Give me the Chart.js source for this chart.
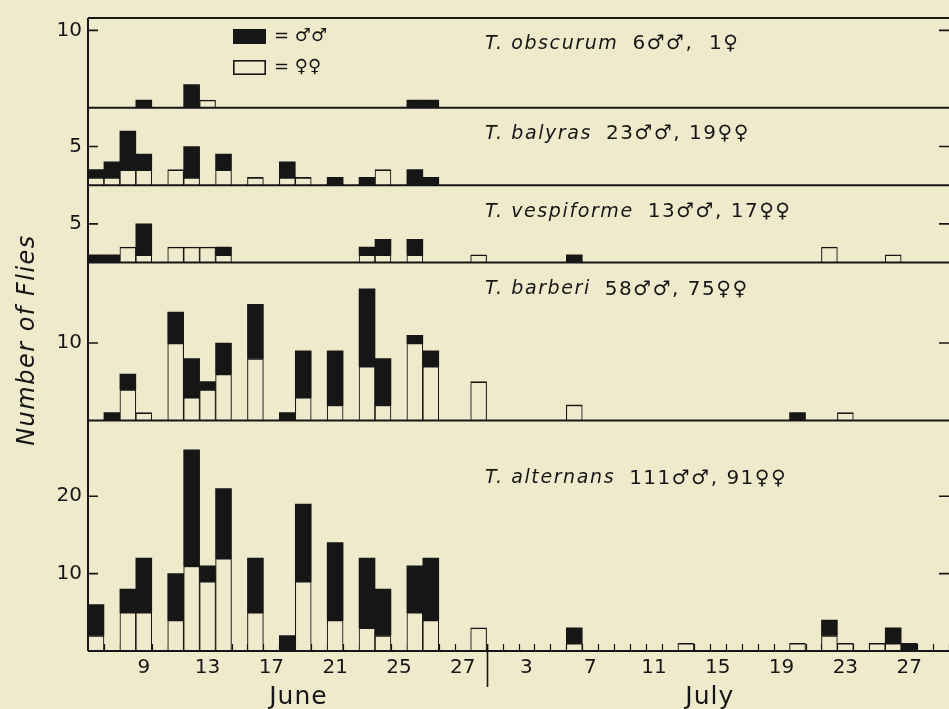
<!DOCTYPE html>
<html>
<head>
<meta charset="utf-8">
<title>Number of Flies</title>
<script src="https://cdn.jsdelivr.net/npm/chart.js@4.4.1/dist/chart.umd.min.js"></script>
<style>
  html, body { margin: 0; padding: 0; background: #f0eacd; }
  #wrap { position: relative; width: 949px; height: 709px; overflow: hidden; }
</style>
</head>
<body>
<div id="wrap"><canvas id="flies" width="949" height="709"></canvas></div>
<script>
// Collection days, 6 June to 29 July (one bar slot per day)
const days = [
  'Jun 6','Jun 7','Jun 8','Jun 9','Jun 10','Jun 11','Jun 12','Jun 13','Jun 14','Jun 15',
  'Jun 16','Jun 17','Jun 18','Jun 19','Jun 20','Jun 21','Jun 22','Jun 23','Jun 24','Jun 25',
  'Jun 26','Jun 27','Jun 28','Jun 29','Jun 30',
  'Jul 1','Jul 2','Jul 3','Jul 4','Jul 5','Jul 6','Jul 7','Jul 8','Jul 9','Jul 10',
  'Jul 11','Jul 12','Jul 13','Jul 14','Jul 15','Jul 16','Jul 17','Jul 18','Jul 19','Jul 20',
  'Jul 21','Jul 22','Jul 23','Jul 24','Jul 25','Jul 26','Jul 27','Jul 28','Jul 29'
];

// Printed day numbers under the axis
const tickLabels = [
  '','','','9','','','','13','','',
  '','17','','','','21','','','','25',
  '','','','27','',
  '','','3','','','','7','','','',
  '11','','','','15','','','','19','',
  '','','23','','','','27','',''
];

const months = ['June', 'July'];

// Counts per day: June 6–30 on the first line, July 1–29 on the second
const obscurumF = [0,0,0,0,0,0,0,1,0,0,0,0,0,0,0,0,0,0,0,0,0,0,0,0,0,
                   0,0,0,0,0,0,0,0,0,0,0,0,0,0,0,0,0,0,0,0,0,0,0,0,0,0,0,0,0];
const obscurumM = [0,0,0,1,0,0,3,0,0,0,0,0,0,0,0,0,0,0,0,0,1,1,0,0,0,
                   0,0,0,0,0,0,0,0,0,0,0,0,0,0,0,0,0,0,0,0,0,0,0,0,0,0,0,0,0];

const balyrasF = [1,1,2,2,0,2,1,0,2,0,1,0,1,1,0,0,0,0,2,0,0,0,0,0,0,
                  0,0,0,0,0,0,0,0,0,0,0,0,0,0,0,0,0,0,0,0,0,0,0,0,0,0,0,0,0];
const balyrasM = [1,2,5,2,0,0,4,0,2,0,0,0,2,0,0,1,0,1,0,0,2,1,0,0,0,
                  0,0,0,0,0,0,0,0,0,0,0,0,0,0,0,0,0,0,0,0,0,0,0,0,0,0,0,0,0];

const vespiformeF = [0,0,2,1,0,2,2,2,1,0,0,0,0,0,0,0,0,1,1,0,1,0,0,0,1,
                     0,0,0,0,0,0,0,0,0,0,0,0,0,0,0,0,0,0,0,0,0,2,0,0,0,1,0,0,0];
const vespiformeM = [1,1,0,4,0,0,0,0,1,0,0,0,0,0,0,0,0,1,2,0,2,0,0,0,0,
                     0,0,0,0,0,1,0,0,0,0,0,0,0,0,0,0,0,0,0,0,0,0,0,0,0,0,0,0,0];

const barberiF = [0,0,4,1,0,10,3,4,6,0,8,0,0,3,0,2,0,7,2,0,10,7,0,0,5,
                  0,0,0,0,0,2,0,0,0,0,0,0,0,0,0,0,0,0,0,0,0,0,1,0,0,0,0,0,0];
const barberiM = [0,1,2,0,0,4,5,1,4,0,7,0,1,6,0,7,0,10,6,0,1,2,0,0,0,
                  0,0,0,0,0,0,0,0,0,0,0,0,0,0,0,0,0,0,0,1,0,0,0,0,0,0,0,0,0];

const alternansF = [2,0,5,5,0,4,11,9,12,0,5,0,0,9,0,4,0,3,2,0,5,4,0,0,3,
                    0,0,0,0,0,1,0,0,0,0,0,0,1,0,0,0,0,0,0,1,0,2,1,0,1,1,0,0,0];
const alternansM = [4,0,3,7,0,6,15,2,9,0,7,0,2,10,0,10,0,9,6,0,6,8,0,0,0,
                    0,0,0,0,0,2,0,0,0,0,0,0,0,0,0,0,0,0,0,0,0,2,0,0,0,2,1,0,0];

// Species captions and printed totals
const speciesNames = ['T. obscurum', 'T. balyras', 'T. vespiforme', 'T. barberi', 'T. alternans'];
const totalLabels = ['6\u2642\u2642,  1\u2640', '23\u2642\u2642, 19\u2640\u2640', '13\u2642\u2642, 17\u2640\u2640',
                     '58\u2642\u2642, 75\u2640\u2640', '111\u2642\u2642, 91\u2640\u2640'];

// Value range and labelled ticks of each strip
const panelMax = [11.6, 10, 10, 20.4, 29.8];
const panelTicks = [[10], [5], [5], [10], [10, 20]];

const legendLabels = ['= \u2642\u2642', '= \u2640\u2640'];
const axisTitle = 'Number of Flies';

const INK = '#161616';
const PAPER = '#f0eacd';
const FAMILY = "'DejaVu Sans', 'Noto Sans', sans-serif";

const femaleSeries = [obscurumF, balyrasF, vespiformeF, barberiF, alternansF];
const maleSeries = [obscurumM, balyrasM, vespiformeM, barberiM, alternansM];
const panelIds = ['y0', 'y1', 'y2', 'y3', 'y4'];

const datasets = [];
panelIds.forEach((id, p) => {
  datasets.push({
    label: speciesNames[p] + ' \u2640\u2640',
    data: femaleSeries[p].map(v => v || null),
    yAxisID: id, stack: 'sex',
    backgroundColor: PAPER, borderColor: INK,
    borderWidth: { top: 1.6, left: 1.1, right: 1.1, bottom: 0 },
    barPercentage: 1, categoryPercentage: 1
  });
  datasets.push({
    label: speciesNames[p] + ' \u2642\u2642',
    data: maleSeries[p].map(v => v || null),
    yAxisID: id, stack: 'sex',
    backgroundColor: INK, borderColor: INK, borderWidth: 0,
    barPercentage: 1, categoryPercentage: 1
  });
});

function panelScale(p) {
  return {
    type: 'linear', position: 'left', stack: 'panels',
    stackWeight: panelMax[p], weight: 10 - p,
    stacked: true, min: 0, max: panelMax[p],
    grid: { display: false, drawTicks: false },
    border: { display: false },
    ticks: { color: INK, font: { family: FAMILY, size: 20 }, padding: 6 },
    afterBuildTicks(s) { s.ticks = panelTicks[p].map(v => ({ value: v })); },
    afterFit(s) { s.width = 88; }
  };
}

const scales = {
  x: {
    type: 'category', stacked: true, offset: true,
    grid: { display: false, drawTicks: false },
    border: { display: false },
    ticks: {
      autoSkip: false, maxRotation: 0, minRotation: 0, padding: 5,
      color: INK, font: { family: FAMILY, size: 20 },
      callback: (v, i) => tickLabels[i]
    },
    afterFit(s) { s.height = 58; }
  }
};
panelIds.forEach((id, p) => { scales[id] = panelScale(p); });

// left edge of day slot i on the category axis
const slotEdge = (x, i) => x.getPixelForValue(i - 0.5);

const stripDecor = {
  id: 'stripDecor',
  beforeDatasetsDraw(chart, args, o) {
    const { ctx, chartArea: a, scales: { x } } = chart;
    ctx.save();
    ctx.strokeStyle = INK;
    ctx.lineWidth = 1.2;
    ctx.beginPath();
    for (let i = 0; i <= days.length; i++) {
      const px = Math.round(slotEdge(x, i)) + 0.5;
      ctx.moveTo(px, a.bottom);
      ctx.lineTo(px, a.bottom - o.dayTick);
    }
    ctx.stroke();
    ctx.restore();
  },
  afterDatasetsDraw(chart, args, o) {
    const { ctx, chartArea: a, scales: sc } = chart;
    const x = sc.x;
    ctx.save();
    ctx.strokeStyle = INK;
    ctx.lineWidth = 2;
    ctx.beginPath();
    // frame top and left axis
    ctx.moveTo(a.left, a.top); ctx.lineTo(a.right, a.top);
    ctx.moveTo(a.left, a.top); ctx.lineTo(a.left, a.bottom);
    // baseline of every strip
    panelIds.forEach(id => {
      const y0 = sc[id].getPixelForValue(0);
      ctx.moveTo(a.left, y0); ctx.lineTo(a.right, y0);
    });
    ctx.stroke();
    // value ticks, inside on both sides
    ctx.lineWidth = 1.6;
    ctx.beginPath();
    panelIds.forEach((id, p) => {
      panelTicks[p].forEach(v => {
        const py = sc[id].getPixelForValue(v);
        ctx.moveTo(a.left, py); ctx.lineTo(a.left + o.valueTick, py);
        ctx.moveTo(a.right - o.valueTick, py); ctx.lineTo(a.right, py);
      });
    });
    // June | July divider
    const dx = Math.round(slotEdge(x, o.monthBreak)) + 0.5;
    ctx.moveTo(dx, a.bottom - o.dayTick);
    ctx.lineTo(dx, a.bottom + o.dividerDrop);
    ctx.stroke();
    ctx.restore();
  },
  afterDraw(chart, args, o) {
    const { ctx, chartArea: a, scales: sc } = chart;
    const x = sc.x;
    ctx.save();
    ctx.fillStyle = INK;
    ctx.textBaseline = 'middle';

    // species captions
    panelIds.forEach((id, p) => {
      const ty = sc[id].top + o.captionDy[p];
      ctx.textAlign = 'left';
      ctx.letterSpacing = '1.6px';
      ctx.font = `italic 19px ${FAMILY}`;
      ctx.fillText(speciesNames[p], o.captionX, ty);
      const w = ctx.measureText(speciesNames[p]).width;
      ctx.font = `20px ${FAMILY}`;
      ctx.letterSpacing = '1.5px';
      ctx.fillText(totalLabels[p], o.captionX + w + 14, ty);
    });

    // legend keys
    const lg = o.legend;
    ctx.letterSpacing = '0px';
    ctx.fillStyle = chart.data.datasets[1].backgroundColor;
    ctx.fillRect(lg.x, lg.y, lg.w, lg.h);
    ctx.fillStyle = chart.data.datasets[0].backgroundColor;
    ctx.strokeStyle = INK;
    ctx.lineWidth = 1.6;
    ctx.fillRect(lg.x, lg.y + lg.gap, lg.w, lg.h);
    ctx.strokeRect(lg.x + 0.8, lg.y + lg.gap + 0.8, lg.w - 1.6, lg.h - 1.6);
    ctx.fillStyle = INK;
    ctx.font = `18px ${FAMILY}`;
    ctx.textAlign = 'left';
    ctx.fillText(legendLabels[0], lg.x + lg.w + 8, lg.y + lg.h / 2);
    ctx.fillText(legendLabels[1], lg.x + lg.w + 8, lg.y + lg.gap + lg.h / 2);

    // month names
    ctx.textAlign = 'center';
    ctx.font = `25px ${FAMILY}`;
    ctx.letterSpacing = '1px';
    months.forEach((m, i) => {
      ctx.fillText(m, x.getPixelForValue(o.monthAt[i]), a.bottom + o.monthDy);
    });

    // value axis title
    ctx.translate(o.titleX, o.titleY);
    ctx.rotate(-Math.PI / 2);
    ctx.font = `italic 24px ${FAMILY}`;
    ctx.letterSpacing = '1.5px';
    ctx.fillText(axisTitle, 0, 0);
    ctx.restore();
  }
};

new Chart(document.getElementById('flies'), {
  type: 'bar',
  data: { labels: days, datasets },
  plugins: [stripDecor],
  options: {
    responsive: false,
    animation: false,
    layout: { padding: { top: 13, right: 0, bottom: 0, left: 0 } },
    plugins: {
      legend: { display: false },
      tooltip: { enabled: false },
      stripDecor: {
        dayTick: 7, valueTick: 10, dividerDrop: 36, monthBreak: 25,
        monthAt: [12.7, 38.5], monthDy: 46,
        captionX: 485, captionDy: [26, 26, 27, 27, 58],
        legend: { x: 233, y: 29, w: 33, h: 15, gap: 31 },
        titleX: 28, titleY: 340
      }
    },
    scales
  }
});
</script>
</body>
</html>
